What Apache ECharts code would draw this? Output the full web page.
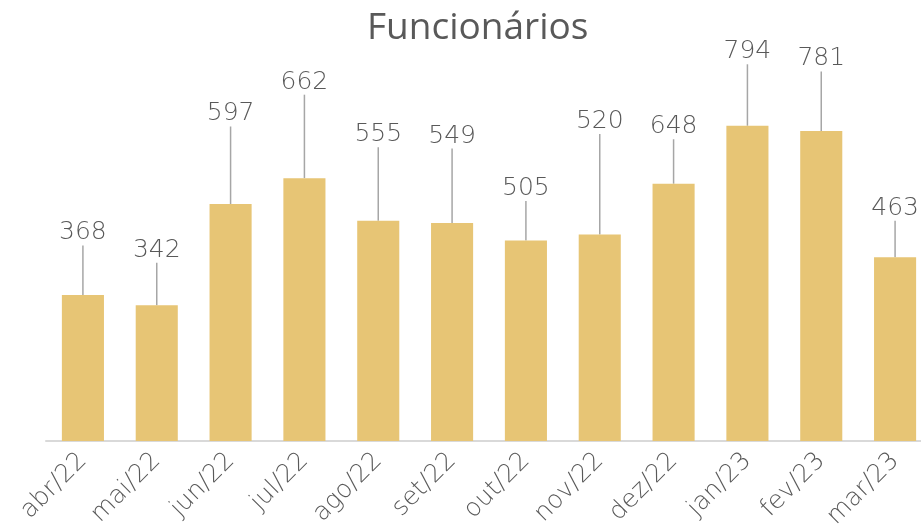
<!DOCTYPE html>
<html>
<head>
<meta charset="utf-8">
<script src="https://cdn.jsdelivr.net/npm/echarts@6/dist/echarts.min.js"></script>
<style>
  html, body { margin: 0; padding: 0; background: #fff; }
  #main { width: 921px; height: 531px; }
</style>
</head>
<body>
<div id="main"></div>
<script>
// dados
const meses = ['abr/22', 'mai/22', 'jun/22', 'jul/22', 'ago/22', 'set/22',
  'out/22', 'nov/22', 'dez/22', 'jan/23', 'fev/23', 'mar/23'];
const funcionarios = [368, 342, 597, 662, 555, 549, 505, 520, 648, 794, 781, 463];

// quanto cada rótulo sobe acima da barra (px)
const alturaRotulo = [66, 59, 94, 100, 90, 91, 56, 117, 61, 78, 76, 53];

const chart = echarts.init(document.getElementById('main'));

const option = {
  animation: false,
  title: {
    text: 'Funcionários',
    left: 362,
    top: 5,
    textStyle: { fontFamily: 'Open Sans', fontSize: 37, fontWeight: 'normal', color: '#595959' }
  },
  grid: { left: 46, width: 886, top: 44, bottom: 90, outerBoundsMode: 'none', containLabel: false },
  xAxis: {
    type: 'category',
    data: meses,
    axisTick: { show: false },
    axisLine: { lineStyle: { color: '#d9d9d9', width: 2 } },
    axisLabel: {
      rotate: 45,
      margin: 16,
      interval: 0,
      fontFamily: 'DejaVu Sans',
      fontWeight: 200,
      fontSize: 25,
      color: '#595959'
    }
  },
  yAxis: {
    type: 'value',
    min: 0,
    max: 1000,
    show: false,
    splitLine: { show: false }
  },
  series: [
    {
      type: 'bar',
      data: funcionarios,
      barWidth: '57%',
      itemStyle: { color: '#E7C575' },
      label: {
        show: true,
        position: 'top',
        fontFamily: 'DejaVu Sans',
        fontWeight: 200,
        fontSize: 25,
        color: '#595959',
        padding: [0, 0, 8, 0]
      },
      labelLine: {
        show: true,
        lineStyle: { color: '#a6a6a6', width: 1.5 }
      },
      labelLayout: function (p) {
        return {
          x: p.rect.x + p.rect.width / 2,
          y: p.rect.y - alturaRotulo[p.dataIndex] + 4,
          align: 'center',
          verticalAlign: 'middle'
        };
      }
    }
  ]
};

chart.setOption(option);
</script>
</body>
</html>
